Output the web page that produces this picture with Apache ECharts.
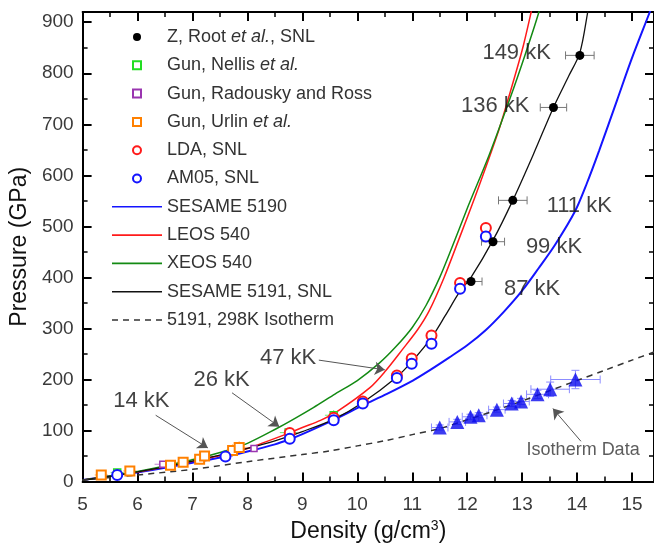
<!DOCTYPE html>
<html><head><meta charset="utf-8">
<script src="https://cdn.jsdelivr.net/npm/echarts@6/dist/echarts.min.js"></script>
<style>html,body{margin:0;padding:0;background:#fff}#c{width:654px;height:548px}</style>
</head><body><div id="c"></div>
<script>
const FONT = "'Liberation Sans', Arial, sans-serif";

// ---- data (density g/cm3, pressure GPa) ----
const zRoot      = [[12.07,392],[12.47,470],[12.83,551],[13.57,733],[14.05,835]];
const zRootXerr  = [0.20,0.21,0.26,0.24,0.26];
const gunNellis  = [[5.63,18],[7.62,52],[8.75,96],[9.57,130]];
const gunNellisXerr = [0.12,0.12,0.16,0.16];
const gunNellisYerr = [4,6,8,10];
const gunRadousky = [[6.46,34],[8.12,65]];
const gunRadouskyXerr = [0.15,0.15];
const gunUrlin   = [[5.34,13],[5.86,21],[6.60,32],[6.83,38],[7.13,44],[7.22,50],[7.73,61],[7.85,67]];
const gunUrlinXerr = [0.12,0.12,0.12,0.12,0.15,0.15,0.15,0.15];
const gunUrlinYerr = [5,5,6,8,10,10,12,12];
const ldaSNL  = [[8.77,95],[9.57,125],[10.10,157],[10.72,208],[10.99,241],[11.35,286],[11.87,389],[12.34,497]];
const am05SNL = [[5.63,13],[7.60,49],[8.77,84],[9.57,120],[10.10,153],[10.72,203],[10.99,231],[11.35,270],[11.87,378],[12.34,480]];
const isoData = [[11.50,106],[11.82,117],[12.06,127],[12.21,130],[12.54,141],[12.81,153],[12.98,157],[13.28,171],[13.51,181],[13.97,200]];
const isoXerr = [0.15,0.15,0.15,0.15,0.15,0.15,0.15,0.2,0.35,0.45];
const isoYerr = [5,5,5,5,5,6,6,8,14,18];

const sesame5190 = [[5.0,3],[5.63,13],[6.0,18],[6.5,27],[7.0,37],[7.6,49],[8.0,59],[8.5,73],[8.77,83],[9.0,93],[9.57,121],[10.11,150],[10.54,172],[11.01,198],[11.3,217],[11.67,243],[12.0,267],[12.34,297],[12.67,333],[13.0,374],[13.3,418],[13.6,464],[13.96,529],[14.18,585],[14.4,648],[14.73,748],[15.0,830],[15.32,919],[15.42,948]];
const leos540 = [[5.0,3],[6.0,19],[7.0,40],[7.6,53],[8.0,65],[8.73,94],[9.0,106],[9.33,120],[9.63,137],[10.23,184],[10.5,215],[10.83,260],[11.1,298],[11.31,335],[11.58,400],[11.85,475],[12.15,560],[12.57,687],[12.75,751],[13.0,845],[13.16,918],[13.22,950]];
const xeos540 = [[5.0,3],[6.0,20],[7.0,43],[7.6,60],[8.0,75],[8.55,105],[8.77,118],[9.2,145],[9.6,172],[10.0,198],[10.4,232],[10.7,264],[11.0,302],[11.25,345],[11.5,400],[11.72,458],[12.0,535],[12.4,640],[12.78,751],[13.05,835],[13.3,918],[13.37,950]];
const sesame5191 = [[5.0,3],[5.5,10],[6.0,19],[6.5,29],[7.0,40],[7.5,52],[8.0,65],[8.5,80],[9.0,98],[9.57,122],[10.1,155],[10.72,205],[11.0,236],[11.35,282],[11.6,325],[11.87,373],[12.07,400],[12.47,473],[12.83,551],[13.2,640],[13.57,733],[13.85,795],[14.05,840],[14.19,918],[14.23,950]];
const iso5191 = [[5.0,3],[6.0,13],[7.0,24],[8.0,39],[9.0,53],[9.5,60],[10.0,70],[10.5,80],[11.0,92],[11.5,104],[12.0,121],[12.5,139],[13.0,158],[13.5,178],[14.0,198],[14.5,218],[15.0,238],[15.4,254]];

const annotations = [["149 kK",12.90,840],["136 kK",12.51,735],["111 kK",14.04,540],["99 kK",13.58,460],["87 kK",13.18,378],["47 kK",8.74,243],["26 kK",7.53,200],["14 kK",6.07,158]];
const isoNote = ["Isotherm Data",14.11,61];
const arrows = [[[6.33,130],[7.28,66]],[[7.72,174],[8.58,107.5]],[[9.30,238],[10.50,219]],[[14.07,79],[13.56,143]]];

const xRange = [5, 15.4], yRange = [0, 920];

function withErr(pts, xe, ye){ return pts.map((p,i)=>[p[0],p[1],xe?xe[i]:0,ye?ye[i]:0]); }

function errRender(color, cap){
  return function(params, api){
    const x=api.value(0), y=api.value(1), ex=api.value(2), ey=api.value(3);
    const ch=[]; const st={stroke:color,lineWidth:1};
    if(ex>0){
      const a=api.coord([x-ex,y]), b=api.coord([x+ex,y]);
      ch.push({type:'line',shape:{x1:a[0],y1:a[1],x2:b[0],y2:b[1]},style:st});
      if(cap){
        ch.push({type:'line',shape:{x1:a[0],y1:a[1]-cap,x2:a[0],y2:a[1]+cap},style:st});
        ch.push({type:'line',shape:{x1:b[0],y1:b[1]-cap,x2:b[0],y2:b[1]+cap},style:st});
      }
    }
    if(ey>0){
      const a=api.coord([x,y-ey]), b=api.coord([x,y+ey]);
      ch.push({type:'line',shape:{x1:a[0],y1:a[1],x2:b[0],y2:b[1]},style:st});
      if(cap){
        ch.push({type:'line',shape:{x1:a[0]-cap,y1:a[1],x2:a[0]+cap,y2:a[1]},style:st});
        ch.push({type:'line',shape:{x1:b[0]-cap,y1:b[1],x2:b[0]+cap,y2:b[1]},style:st});
      }
    }
    return {type:'group',children:ch};
  };
}

const axisCommon = {
  type:'value', splitLine:{show:false},
  axisLine:{onZero:false,lineStyle:{color:'#000',width:2}},
  axisTick:{inside:true,length:9,lineStyle:{color:'#000',width:2}},
  minorTick:{show:true,splitNumber:2,length:5,lineStyle:{color:'#000',width:1.5}}
};

const chart = echarts.init(document.getElementById('c'), null, {renderer:'canvas'});
const lineS = (name, data, color, w, type) => ({
  name, type:'line', data, symbol:'none', smooth:0.3, clip:true, z:3,
  lineStyle:{color, width:w, type:type||'solid'}, itemStyle:{color}
});
const scat = (name, data, symbol, size, fill, border, bw) => ({
  name, type:'scatter', data, symbol, symbolSize:size, z:6,
  itemStyle:{color:fill, borderColor:border, borderWidth:bw, opacity:1}
});
const errS = (data, color, cap) => ({
  type:'custom', data, renderItem:errRender(color,cap), encode:{x:0,y:1}, z:2, silent:true
});

const lineIcon = 'path://M0,0H50V1.6H0Z';
const dashIcon = 'path://M0,0H6V1.6H0Z M11,0H17V1.6H11Z M22,0H28V1.6H22Z M33,0H39V1.6H33Z M44,0H50V1.6H44Z';
const squareIcon = 'path://M0,0H10V10H0Z';
const legendItems = [
  {name:'Z, Root et al., SNL', icon:'circle'},
  {name:'Gun, Nellis et al.', icon:squareIcon},
  {name:'Gun, Radousky and Ross', icon:squareIcon},
  {name:'Gun, Urlin et al.', icon:squareIcon},
  {name:'LDA, SNL', icon:'circle'},
  {name:'AM05, SNL', icon:'circle'},
  {name:'SESAME 5190', icon:lineIcon},
  {name:'LEOS 540', icon:lineIcon},
  {name:'XEOS 540', icon:lineIcon},
  {name:'SESAME 5191, SNL', icon:lineIcon},
  {name:'5191, 298K Isotherm', icon:dashIcon}
];

chart.setOption({
  animation:false,
  backgroundColor:'#fff',
  textStyle:{fontFamily:FONT},
  grid:{left:79, top:12, width:578, height:481, containLabel:false},
  legend:{
    orient:'vertical', left:112, top:27, padding:0, itemWidth:50, itemHeight:8, itemGap:8.3, itemTextGap:5,
    selectedMode:false, data:legendItems,
    textStyle:{fontSize:18, color:'#333', fontFamily:FONT, lineHeight:20,
      rich:{i:{fontStyle:'italic', fontSize:18, color:'#333', fontFamily:FONT, lineHeight:20}}},
    formatter: n => n.replace('et al.', '{i|et al.}')
  },
  xAxis:[
    Object.assign({}, axisCommon, {position:'bottom', min:xRange[0], max:xRange[1], interval:1,
      axisLabel:{fontSize:19, color:'#3a3a3a', margin:14, showMaxLabel:false, fontFamily:FONT},
      name:'Density (g/cm{sup|3})', nameLocation:'middle', nameGap:32,
      nameTextStyle:{fontSize:23, color:'#111', fontFamily:FONT,
        rich:{sup:{fontSize:14, color:'#111', fontFamily:FONT, verticalAlign:'top', padding:[0,0,10,0]}}}}),
    Object.assign({}, axisCommon, {position:'top', min:xRange[0], max:xRange[1], interval:1, axisLabel:{show:false}})
  ],
  yAxis:[
    Object.assign({}, axisCommon, {position:'left', min:yRange[0], max:yRange[1], interval:100,
      axisLabel:{fontSize:19, color:'#3a3a3a', margin:9, showMaxLabel:false, fontFamily:FONT},
      name:'Pressure (GPa)', nameLocation:'middle', nameGap:46,
      nameTextStyle:{fontSize:23, color:'#111', fontFamily:FONT}}),
    Object.assign({}, axisCommon, {position:'right', min:yRange[0], max:yRange[1], interval:100, axisLabel:{show:false}})
  ],
  series:[
    errS(withErr(isoData, isoXerr, isoYerr), '#8c8cff', 4),
    errS(withErr(zRoot, zRootXerr, null), '#777', 4),
    errS(withErr(gunUrlin, gunUrlinXerr, gunUrlinYerr), '#ffb070', 0),
    errS(withErr(gunNellis, gunNellisXerr, gunNellisYerr), '#70ee70', 0),
    errS(withErr(gunRadousky, gunRadouskyXerr, null), '#c080d0', 0),
    lineS('SESAME 5190', sesame5190, '#1414ff', 2),
    lineS('LEOS 540', leos540, '#ff1a1a', 1.5),
    lineS('XEOS 540', xeos540, '#138a13', 1.5),
    lineS('SESAME 5191, SNL', sesame5191, '#111', 1.3),
    lineS('5191, 298K Isotherm', iso5191, '#333', 1.5, [6,5]),
    scat('Gun, Nellis et al.', gunNellis, 'rect', 7, '#fff', '#22dd22', 1.5),
    scat('Gun, Radousky and Ross', gunRadousky, 'rect', 6, '#fff', '#9a35b0', 1.5),
    scat('Gun, Urlin et al.', gunUrlin, 'rect', 9, '#fff', '#ff8000', 2),
    scat('LDA, SNL', ldaSNL, 'circle', 10, '#fff', '#ff1a1a', 2),
    scat('AM05, SNL', am05SNL, 'circle', 10, '#fff', '#1414ff', 2),
    scat('Z, Root et al., SNL', zRoot, 'circle', 9, '#000', '#000', 0),
    {type:'scatter', name:'isotherm data', data:isoData, symbol:'triangle', symbolSize:14, z:6,
      itemStyle:{color:'#0a0aee'}},
    {type:'scatter', name:'notes', silent:true, z:8, symbolSize:1, itemStyle:{color:'transparent'},
      data:annotations.map(a=>({value:[a[1],a[2]], label:{formatter:a[0]}})).concat([
        {value:[isoNote[1],isoNote[2]], label:{formatter:isoNote[0], fontSize:18, color:'#333'}}]),
      label:{show:true, position:'inside', fontSize:22, color:'#111', fontFamily:FONT},
      markLine:{silent:true, symbol:['none','arrow'], symbolSize:10, animation:false,
        label:{show:false}, lineStyle:{color:'#555', width:1, type:'solid'},
        data:arrows.map(a=>[{coord:a[0]},{coord:a[1]}])}
    }
  ]
});
</script></body></html>
